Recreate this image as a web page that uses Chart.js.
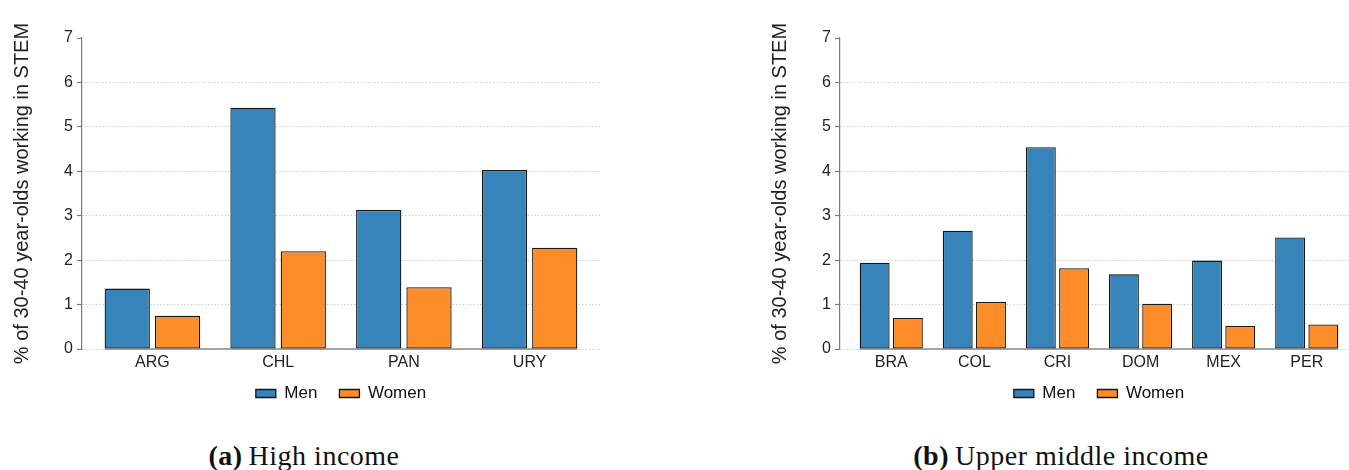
<!DOCTYPE html>
<html>
<head>
<meta charset="utf-8">
<script src="https://cdn.jsdelivr.net/npm/chart.js@4.4.1/dist/chart.umd.min.js"></script>
<style>
  html, body { margin: 0; padding: 0; background: #fff; overflow: hidden; width: 1349px; height: 470px; }
  .panel { position: absolute; top: 0; }
  .caption {
    position: absolute; top: 440px; width: 400px; text-align: center;
    font-family: "Liberation Serif", "DejaVu Serif", serif; font-size: 28px; letter-spacing: 0.5px; color: #111;
  }
  .caption b { margin-right: 6px; }
</style>
</head>
<body>
<div class="panel" style="left:0"><canvas id="graficaAlto" width="682" height="422"></canvas></div>
<div class="panel" style="left:758px"><canvas id="graficaMedio" width="682" height="422"></canvas></div>
<div class="caption" style="left:104px"><b>(a)</b>High income</div>
<div class="caption" style="left:861px"><b>(b)</b>Upper middle income</div>
<script>
const seriesNames = ["Men", "Women"];
const seriesColors = ["#3784BB", "#FE8C28"];

const highCountries = ["ARG", "CHL", "PAN", "URY"];
const highMen = [1.36, 5.43, 3.13, 4.03];
const highWomen = [0.75, 2.2, 1.39, 2.28];

const upperCountries = ["BRA", "COL", "CRI", "DOM", "MEX", "PER"];
const upperMen = [1.94, 2.66, 4.54, 1.68, 1.99, 2.51];
const upperWomen = [0.7, 1.06, 1.82, 1.02, 0.52, 0.55];

const yMax = 7;
const yTitle = "% of 30-40 year-olds working in STEM";

Chart.defaults.font.family = "'Liberation Sans', Arial, sans-serif";
Chart.defaults.color = "#222";

// gray baseline under the bars, from first bar to last bar
const baseline = {
  id: "baseline",
  beforeDatasetsDraw(chart) {
    const first = chart.getDatasetMeta(0).data[0];
    const lastMeta = chart.getDatasetMeta(chart.data.datasets.length - 1).data;
    const last = lastMeta[lastMeta.length - 1];
    const y = chart.scales.y.getPixelForValue(0);
    const ctx = chart.ctx;
    ctx.save();
    ctx.strokeStyle = "#8a8a8a";
    ctx.lineWidth = 1.5;
    ctx.beginPath();
    ctx.moveTo(first.x - first.width / 2, y);
    ctx.lineTo(last.x + last.width / 2, y);
    ctx.stroke();
    ctx.restore();
  }
};

// pull the legend a little closer to the axis labels
const subirLeyenda = {
  id: "subirLeyenda",
  afterLayout(chart) {
    chart.legend.top -= 10;
    chart.legend.bottom -= 10;
  }
};

function grafica(id, labels, men, women, pad) {
  new Chart(document.getElementById(id), {
    type: "bar",
    data: {
      labels: labels,
      datasets: [men, women].map((d, i) => ({
        label: seriesNames[i],
        data: d,
        backgroundColor: seriesColors[i],
        borderColor: "#161616",
        borderWidth: 1.3,
        borderSkipped: false,
        categoryPercentage: 0.8,
        barPercentage: 0.9,
      })),
    },
    options: {
      responsive: false,
      animation: false,
      layout: { padding: { left: 0, right: 0, top: 38, bottom: 0 } },
      plugins: {
        tooltip: { enabled: false },
        legend: {
          position: "bottom",
          labels: { boxWidth: 20, boxHeight: 8, padding: 22, font: { size: 17 }, color: "#111" },
        },
      },
      scales: {
        x: {
          grid: { display: false, drawTicks: false, tickLength: 0 },
          border: { display: false },
          ticks: { padding: 4, font: { size: 16 }, color: "#222" },
          afterBuildTicks: (s) => { s._startValue -= pad; s._valueRange += 2 * pad; },
          afterFit: (s) => { s.height = 24; },
        },
        y: {
          min: 0,
          max: yMax,
          afterFit: (s) => { s.width = 82; },
          ticks: { stepSize: 1, padding: 4, font: { size: 16 }, color: "#222" },
          grid: {
            color: (c) => (c.tick && c.tick.value === yMax ? "rgba(0,0,0,0)" : "#c4c4c4"),
            lineWidth: 1,
            tickLength: 5,
            tickColor: "#7a7a7a",
            tickWidth: 1.2,
          },
          border: { color: "#7a7a7a", width: 1.2, dash: [1.2, 2.2] },
          title: {
            display: true,
            text: yTitle,
            font: { size: 20 },
            color: "#222",
            padding: { top: 10, bottom: 0 },
          },
        },
        // empty right margin so the legend centres under the plot
        margen: {
          position: "right",
          display: true,
          ticks: { display: false },
          grid: { display: false, drawTicks: false },
          border: { display: false },
          afterFit: (s) => { s.width = 82; },
        },
      },
    },
    plugins: [baseline, subirLeyenda],
  });
}

window.onload = () => {
  grafica("graficaAlto", highCountries, highMen, highWomen, 0.06);
  grafica("graficaMedio", upperCountries, upperMen, upperWomen, 0.117);
};
</script>
</body>
</html>
